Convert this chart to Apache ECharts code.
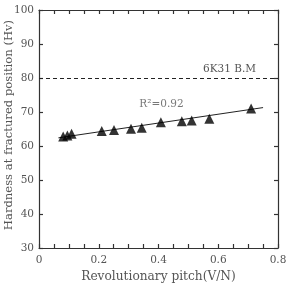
<!DOCTYPE html>
<html><head><meta charset="utf-8">
<script src="https://cdn.jsdelivr.net/npm/echarts@6/dist/echarts.min.js"></script>
<style>html,body{margin:0;padding:0;background:#fff}#c{width:291px;height:283px}</style>
</head><body><div id="c"></div>
<script>
var pitchX = [0.081, 0.095, 0.109, 0.21, 0.251, 0.308, 0.344, 0.408, 0.478, 0.511, 0.57, 0.71];
var hardnessY = [62.8, 63.1, 63.6, 64.4, 64.7, 65.1, 65.4, 67.0, 67.3, 67.5, 68.0, 71.0];
var fitX = [0.065, 0.75];
var fitY = [62.4, 71.3];
var baseMetalValue = 80;
var baseMetalLabel = '6K31 B.M';
var r2Text = 'R\u00B2=0.92';
var r2Pos = [0.41, 72.4];
var xTickLabels = ['0', '0.2', '0.4', '0.6', '0.8'];
var yTickLabels = ['30', '40', '50', '60', '70', '80', '90', '100'];

var FONT = 'DejaVu Serif';
var TXT = '#555';
var chart = echarts.init(document.getElementById('c'));
function axisBase(){
  return {
    axisLine:{show:true,onZero:false,lineStyle:{color:'#333',width:1.2}},
    axisTick:{show:true,inside:true,length:4,lineStyle:{color:'#333',width:1.2}},
    splitLine:{show:false}
  };
}
var xMain = Object.assign(axisBase(), {
  type:'value', min:0, max:0.8, interval:0.05, position:'bottom',
  name:'Revolutionary pitch(V/N)', nameLocation:'middle', nameGap:23, nameMoveOverlap:false,
  nameTextStyle:{fontFamily:FONT,fontSize:12.2,color:TXT},
  axisLabel:{fontFamily:FONT,fontSize:10.5,color:TXT,margin:7,
    formatter:function(v){var s=(Math.round(v*100)/100).toString();return xTickLabels.indexOf(s)>=0?s:'';}}
});
var xTop = Object.assign(axisBase(), {type:'value', min:0, max:0.8, interval:0.05, position:'top', axisLabel:{show:false}});
var yMain = Object.assign(axisBase(), {
  type:'value', min:30, max:100, interval:10, position:'left',
  name:'Hardness at fractured position (Hv)', nameLocation:'middle', nameGap:24, nameMoveOverlap:false,
  nameTextStyle:{fontFamily:FONT,fontSize:11.6,color:TXT,padding:[0,0,0,8]},
  axisLabel:{fontFamily:FONT,fontSize:10.5,color:TXT,margin:5,
    formatter:function(v){var s=String(v);return yTickLabels.indexOf(s)>=0?s:'';}}
});
var yRight = Object.assign(axisBase(), {type:'value', min:30, max:100, interval:10, position:'right', axisLabel:{show:false}});

chart.setOption({
  animation:false,
  backgroundColor:'#fff',
  grid:{left:39, top:10, width:239, height:238, containLabel:false, outerBoundsMode:'none'},
  xAxis:[xMain, xTop],
  yAxis:[yMain, yRight],
  series:[
    {type:'line', data:fitX.map(function(x,i){return [x,fitY[i]];}), showSymbol:false, symbol:'none',
     lineStyle:{color:'#222',width:1}, z:2,
     markLine:{silent:true, symbol:'none', lineStyle:{color:'#222',type:[4,3],width:1.2},
       label:{show:true, position:'insideEndTop', formatter:baseMetalLabel, fontFamily:FONT, fontSize:10.5, color:TXT, distance:[22,3]},
       data:[{yAxis:baseMetalValue}]}},
    {type:'scatter', data:pitchX.map(function(x,i){return [x,hardnessY[i]];}), symbol:'triangle', symbolSize:10,
     itemStyle:{color:'#000'}, z:3},
    {type:'scatter', data:[r2Pos], symbolSize:0, silent:true,
     label:{show:true, position:'inside', formatter:r2Text, fontFamily:FONT, fontSize:10.5, color:TXT}}
  ]
});
</script></body></html>
